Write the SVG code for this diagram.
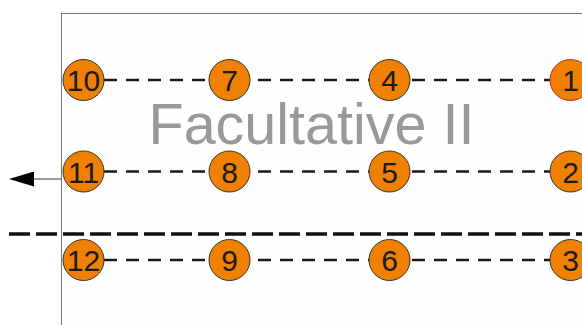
<svg xmlns="http://www.w3.org/2000/svg" width="582" height="325" viewBox="0 0 582 325">
<defs>
<style>
.node circle{fill:#f08000;stroke:#333;stroke-width:1}
.node text{font-family:"Liberation Sans",Arial,sans-serif;font-size:30px;fill:#1a1a1a;text-anchor:middle}
.link{stroke:#1a1a1a;stroke-width:2.5;stroke-dasharray:13 9;fill:none}
</style>
<marker id="ah" viewBox="0 0 25 15" refX="0" refY="7.5" markerWidth="25" markerHeight="15" markerUnits="userSpaceOnUse" orient="auto">
<path d="M0,0 L25,7.5 L0,15 Z" fill="#000"/>
</marker>
</defs>
<rect width="582" height="325" fill="#fff"/>
<rect x="61.5" y="13.5" width="600" height="400" fill="#fefefe" stroke="#777" stroke-width="1"/>
<text x="311.5" y="144" font-family="Liberation Sans,Arial,sans-serif" font-size="57.5" fill="#999" text-anchor="middle">Facultative II</text>
<g id="connectors">
<line class="link" x1="104" y1="80" x2="550" y2="80"/>
<line class="link" x1="104" y1="171.5" x2="550" y2="171.5"/>
<line class="link" x1="104" y1="260" x2="550" y2="260"/>
<line x1="9" y1="234" x2="582" y2="234" stroke="#111" stroke-width="3.5" stroke-dasharray="21 6"/>
<line x1="61" y1="179" x2="34" y2="179" stroke="#555" stroke-width="1.2" marker-end="url(#ah)"/>
</g>
<g id="n10" class="node"><circle cx="83.5" cy="80" r="20.5"/><text x="83.5" y="91">10</text></g>
<g id="n7" class="node"><circle cx="229.5" cy="80" r="20.5"/><text x="229.5" y="91">7</text></g>
<g id="n4" class="node"><circle cx="389.5" cy="80" r="20.5"/><text x="389.5" y="91">4</text></g>
<g id="n1" class="node"><circle cx="570.5" cy="80" r="20.5" style="stroke:#b03020"/><text x="570.5" y="91">1</text></g>
<g id="n11" class="node"><circle cx="83.5" cy="171.5" r="20.5"/><text x="83.5" y="182.5">11</text></g>
<g id="n8" class="node"><circle cx="229.5" cy="171.5" r="20.5"/><text x="229.5" y="182.5">8</text></g>
<g id="n5" class="node"><circle cx="389.5" cy="171.5" r="20.5"/><text x="389.5" y="182.5">5</text></g>
<g id="n2" class="node"><circle cx="570.5" cy="171.5" r="20.5"/><text x="570.5" y="182.5">2</text></g>
<g id="n12" class="node"><circle cx="83.5" cy="260" r="20.5"/><text x="83.5" y="271">12</text></g>
<g id="n9" class="node"><circle cx="229.5" cy="260" r="20.5"/><text x="229.5" y="271">9</text></g>
<g id="n6" class="node"><circle cx="389.5" cy="260" r="20.5"/><text x="389.5" y="271">6</text></g>
<g id="n3" class="node"><circle cx="570.5" cy="260" r="20.5"/><text x="570.5" y="271">3</text></g>
</svg>
